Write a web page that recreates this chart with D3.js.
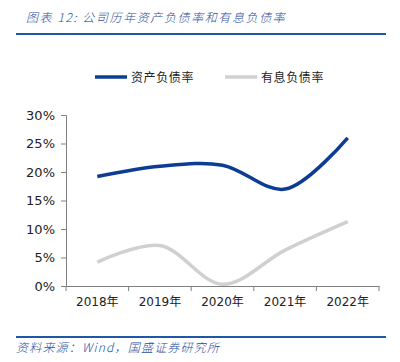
<!DOCTYPE html>
<html>
<head>
<meta charset="utf-8">
<script src="https://cdn.jsdelivr.net/npm/d3@7"></script>
<style>
  body { margin: 0; background: #fff; }
  svg { display: block; font-family: "Noto Sans CJK SC", "Noto Sans", sans-serif; }
</style>
</head>
<body>
<svg id="chart" width="400" height="362"></svg>
<script>
var years = ["2018年", "2019年", "2020年", "2021年", "2022年"];
var assetRatio = [19.2, 21.0, 21.2, 17.0, 26.0];
var debtRatio = [4.2, 7.1, 0.3, 6.3, 11.3];
var seriesNames = ["资产负债率", "有息负债率"];
var yTicks = [0, 5, 10, 15, 20, 25, 30];

var blue = "#0c3c94";
var gray = "#d0d0d0";
var svg = d3.select("#chart");

// header
svg.append("text").attr("x", 26).attr("y", 22)
  .attr("fill", "#1f4e9c").attr("font-size", 12).attr("font-style", "italic")
  .attr("font-weight", 300).attr("letter-spacing", 1.6)
  .text("图表 12:  公司历年资产负债率和有息负债率");
svg.append("line").attr("x1", 16).attr("x2", 386).attr("y1", 34).attr("y2", 34)
  .attr("stroke", "#1f56a8").attr("stroke-width", 2);

var x = d3.scaleBand().domain(years).range([66, 379]);
var y = d3.scaleLinear().domain([0, 30]).range([286, 115]);

var xAxis = svg.append("g").attr("transform", "translate(0,286)")
  .call(d3.axisBottom(x).tickSize(0).tickPadding(11));
xAxis.select(".domain").attr("stroke", "#808080");
xAxis.selectAll("text").attr("font-size", 12).attr("fill", "#222")
  .attr("font-family", "Tahoma, 'DejaVu Sans', 'Noto Sans CJK SC', sans-serif");
// category separators
svg.append("g").selectAll("line")
  .data(years.map(function (d) { return x(d); }).concat([x.range()[1]]))
  .join("line")
  .attr("x1", function (d) { return d; }).attr("x2", function (d) { return d; })
  .attr("y1", 286).attr("y2", 291).attr("stroke", "#808080");

var yAxis = svg.append("g").attr("transform", "translate(66,0)")
  .call(d3.axisLeft(y).tickValues(yTicks).tickSize(5).tickPadding(6)
    .tickFormat(function (d) { return d + "%"; }));
yAxis.select(".domain").attr("stroke", "#808080");
yAxis.selectAll(".tick line").attr("stroke", "#808080");
yAxis.selectAll("text").attr("font-size", 13).attr("fill", "#222")
  .attr("font-family", "Tahoma, 'DejaVu Sans', sans-serif");

var line = d3.line()
  .x(function (d, i) { return x(years[i]) + x.bandwidth() / 2; })
  .y(function (d) { return y(d); })
  .curve(d3.curveCatmullRom.alpha(0.5));

svg.append("path").datum(debtRatio).attr("d", line)
  .attr("fill", "none").attr("stroke", gray).attr("stroke-width", 3.5);
svg.append("path").datum(assetRatio).attr("d", line)
  .attr("fill", "none").attr("stroke", blue).attr("stroke-width", 3.5);

// legend
var legend = svg.append("g").selectAll("g").data(seriesNames).join("g")
  .attr("transform", function (d, i) { return "translate(" + (95 + i * 130) + ",77)"; });
legend.append("line").attr("x1", 0).attr("x2", 32)
  .attr("stroke", function (d, i) { return i === 0 ? blue : gray; }).attr("stroke-width", 3.5);
legend.append("text").attr("x", 36).attr("y", 4.5).attr("font-size", 12).attr("fill", "#222")
  .attr("letter-spacing", 0.6)
  .text(function (d) { return d; });

// footer
svg.append("line").attr("x1", 16).attr("x2", 386).attr("y1", 337).attr("y2", 337)
  .attr("stroke", "#1f56a8").attr("stroke-width", 2);
svg.append("text").attr("x", 16).attr("y", 352)
  .attr("fill", "#1f4e9c").attr("font-size", 12).attr("font-style", "italic")
  .attr("font-weight", 300).attr("letter-spacing", 1.2)
  .text("资料来源：Wind，国盛证券研究所");
</script>
</body>
</html>
